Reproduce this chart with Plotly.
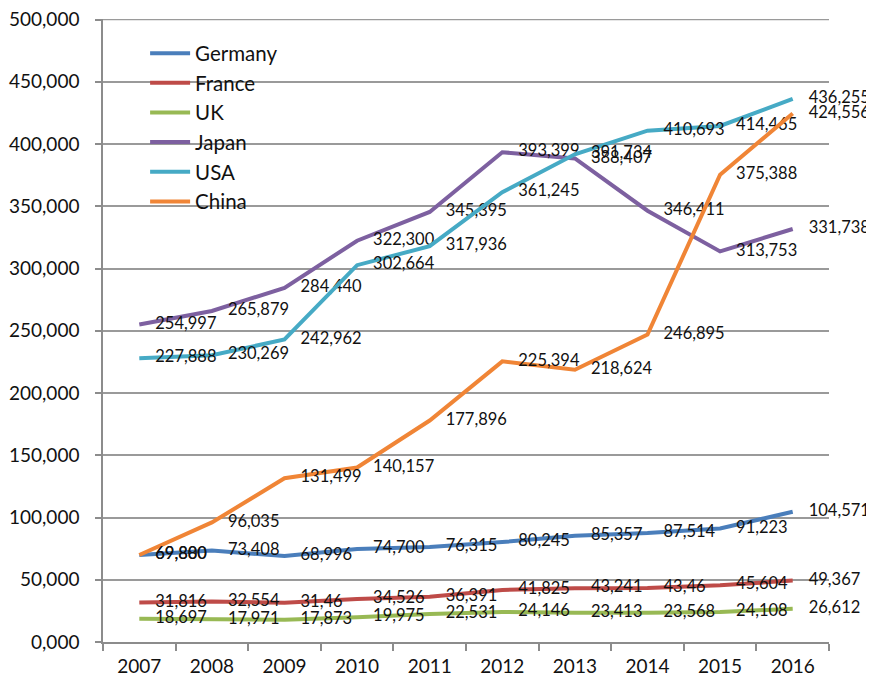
import plotly.graph_objects as go

years = ["2007", "2008", "2009", "2010", "2011", "2012", "2013", "2014", "2015", "2016"]

germany = [69800, 73408, 68996, 74700, 76315, 80245, 85357, 87514, 91223, 104571]
france = [31816, 32554, 31460, 34526, 36391, 41825, 43241, 43460, 45604, 49367]
uk = [18697, 17971, 17873, 19975, 22531, 24146, 23413, 23568, 24108, 26612]
japan = [254997, 265879, 284440, 322300, 345395, 393399, 388407, 346411, 313753, 331738]
usa = [227888, 230269, 242962, 302664, 317936, 361245, 391734, 410693, 414465, 436255]
china = [69880, 96035, 131499, 140157, 177896, 225394, 218624, 246895, 375388, 424556]

# the source shows two french values with the trailing zero dropped
france_labels = {2: "31,46", 7: "43,46"}

y_ticks = [0, 50000, 100000, 150000, 200000, 250000, 300000, 350000, 400000, 450000, 500000]
y_ticktext = ["0,000", "50,000", "100,000", "150,000", "200,000", "250,000",
              "300,000", "350,000", "400,000", "450,000", "500,000"]

series = [
    ("Germany", germany, "#4A7EBB"),
    ("France", france, "#BE4B48"),
    ("UK", uk, "#98B954"),
    ("Japan", japan, "#7D60A0"),
    ("USA", usa, "#46AAC5"),
    ("China", china, "#F08536"),
]

font = "Lato, 'Liberation Sans', sans-serif"

fig = go.Figure()
for name, vals, col in series:
    labels = [f"{v:,}" for v in vals]
    if name == "France":
        for i, t in france_labels.items():
            labels[i] = t
    fig.add_trace(go.Scatter(
        x=years, y=vals, name=name, mode="lines+markers+text",
        line=dict(color=col, width=4),
        marker=dict(size=24, color="rgba(0,0,0,0)"),
        text=labels, textposition="middle right",
        textfont=dict(family=font, size=16.5, color="#111111"),
        cliponaxis=False,
    ))

# top gridline sits on the plot edge, plotly skips it there
fig.add_hline(y=y_ticks[-1], line=dict(color="#9a9a9a", width=1.5), layer="below")

# page body has an 8px margin, so the figure starts 8px in
fig.update_layout(
    width=874, height=675,
    margin=dict(l=95, r=53, t=11, b=41),
    plot_bgcolor="white", paper_bgcolor="white",
    font=dict(family=font, size=19, color="#111111"),
    showlegend=True,
    legend=dict(x=0.058, y=0.977, xanchor="left", yanchor="top",
                bgcolor="rgba(0,0,0,0)", font=dict(size=20.5),
                tracegroupgap=0, itemwidth=40),
    xaxis=dict(type="category", range=[-0.5, 9.5], showgrid=False,
               showline=True, linecolor="#8c8c8c", linewidth=1.5,
               ticks="outside", tickson="boundaries", ticklen=7,
               tickcolor="#8c8c8c", tickwidth=1.5, automargin=False,
               ticklabelstandoff=6),
    yaxis=dict(range=[0, 500400], tickvals=y_ticks, ticktext=y_ticktext,
               showgrid=True, gridcolor="#9a9a9a", gridwidth=1.5,
               showline=True, linecolor="#8c8c8c", linewidth=1.5,
               ticks="outside", ticklen=6, tickcolor="#8c8c8c", tickwidth=1.5,
               zeroline=False, automargin=False, ticklabelstandoff=12,
               ticklabeloverflow="allow"),
)

fig.write_html("out.html")
